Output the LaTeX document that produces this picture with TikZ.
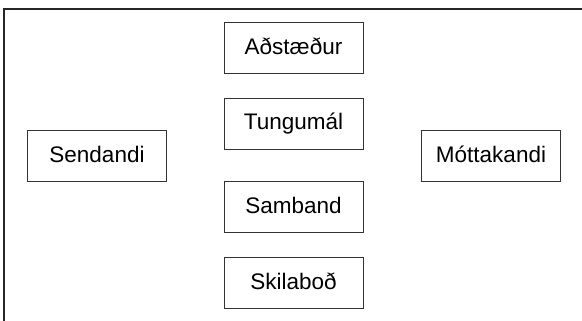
\documentclass[tikz,border=0pt]{standalone}
\usepackage{fontspec}
\setmainfont{Liberation Sans}
\begin{document}
\begin{tikzpicture}[x=1pt,y=-1pt,
  box/.style={draw=black!80, line width=0.9pt, minimum width=139pt, minimum height=51pt,
    inner sep=0pt, text height=17pt, text depth=4pt,
    font=\fontsize{22.5}{26}\selectfont, text=black}]
\useasboundingbox (0,0) rectangle (582,321);
% frame around the diagram
\draw[black!85, line width=2pt] (3.8,322) -- (3.8,8.6) -- (583,8.6);
% central column
\node[box] (adst) at (293.5,48) {Aðstæður};
\node[box] (tung) at (293.5,123.5) {Tungumál};
\node[box] (samb) at (293.5,207) {Samband};
\node[box] (skil) at (293.5,283) {Skilaboð};
% sender and receiver
\node[box] (send) at (97,156) {Sendandi};
\node[box] (mott) at (491,156) {Móttakandi};
\end{tikzpicture}
\end{document}
